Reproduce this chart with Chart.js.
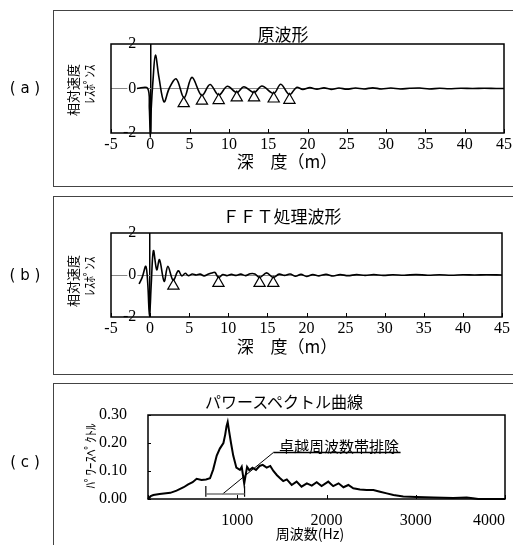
<!DOCTYPE html>
<html>
<head>
<meta charset="utf-8">
<script src="https://cdn.jsdelivr.net/npm/chart.js@4.4.1/dist/chart.umd.min.js"></script>
<style>
body { margin: 0; background: #fff; width: 513px; height: 545px; overflow: hidden; position: relative; font-family: 'Noto Sans CJK JP', sans-serif; color: #000; }
canvas { position: absolute; left: 0; }
.frame { position: absolute; border: 1px solid #444; left: 53px; width: 480px; }
.t { position: absolute; transform: translate(-50%, -50%); white-space: nowrap; line-height: 1; }
.v { transform: translate(-50%, -50%) rotate(-90deg); }
.tag { font-family: 'DejaVu Sans', sans-serif; font-size: 15px; }
</style>
</head>
<body>
<div class="frame" style="top:10px;height:175px"></div>
<div class="frame" style="top:196px;height:177px"></div>
<div class="frame" style="top:383px;height:200px"></div>

<canvas id="waveA" width="513" height="190" style="top:0"></canvas>
<canvas id="waveB" width="513" height="180" style="top:190px"></canvas>
<canvas id="spec" width="513" height="175" style="top:370px"></canvas>

<div class="t tag" style="left:25px;top:88px">( a )</div>
<div class="t tag" style="left:25px;top:275px">( b )</div>
<div class="t tag" style="left:25px;top:462px">( c )</div>

<div class="t" style="left:283px;top:33px;font-size:17px">原波形</div>
<div class="t" style="left:282px;top:215px;font-size:17px">ＦＦＴ処理波形</div>
<div class="t" style="left:284px;top:401px;font-size:16px">パワースペクトル曲線</div>

<div class="t" style="left:287px;top:160px;font-size:17px">深　度（m）</div>
<div class="t" style="left:287px;top:345px;font-size:17px">深　度（m）</div>
<div class="t" style="left:310px;top:533px;font-size:14px">周波数(Hz)</div>

<div class="t v" style="left:72px;top:90px;font-size:13px">相対速度</div>
<div class="t v" style="left:88px;top:84px;font-size:13px">ﾚｽﾎﾟﾝｽ</div>
<div class="t v" style="left:72px;top:281px;font-size:13px">相対速度</div>
<div class="t v" style="left:88px;top:276px;font-size:13px">ﾚｽﾎﾟﾝｽ</div>
<div class="t v" style="left:89px;top:456px;font-size:13px">ﾊﾟﾜｰｽﾍﾟｸﾄﾙ</div>

<div class="t" style="left:339px;top:445px;font-size:15px">卓越周波数帯排除</div>

<script>
// tick values
const depthTicks = [-5, 0, 5, 10, 15, 20, 25, 30, 35, 40, 45];
const ampTicks = [-2, 0, 2];
const freqTicks = [0, 1000, 2000, 3000, 4000];
const powerTicks = [0, 0.1, 0.2, 0.3];

// (a) original waveform
const depthA = [-1.7, -0.35, -0.12, 0, 0.12, 0.35, 0.65, 1.1, 1.75, 2.4, 3.3, 4.3, 5.3, 6.55, 7.6, 8.7, 9.8, 11.0, 11.9, 13.2, 14.2, 15.7, 16.6, 17.7, 18.6, 19.4, 20.3, 21.2, 22.1, 23.0, 24.0, 25.0, 26.1, 27.2, 28.3, 29.4, 30.6, 31.8, 33.0, 34.3, 35.5, 36.8, 38.0, 39.5, 41.0, 42.5, 44.0, 45];
const ampA = [0, 0.02, -0.9, -2.2, -0.9, 0.4, 1.5, 0.5, -0.6, 0.0, 0.43, -0.42, 0.5, -0.32, 0.18, -0.3, 0.1, -0.18, 0.08, -0.18, 0.11, -0.22, 0.19, -0.28, 0.05, -0.04, 0.04, -0.03, 0.03, -0.04, 0.02, -0.03, 0.02, -0.02, 0.03, -0.02, 0.02, -0.02, 0.01, 0.02, -0.02, 0.01, -0.01, 0.01, 0, 0.01, 0, 0];
const markDepthA = [4.25, 6.57, 8.7, 11.0, 13.2, 15.7, 17.7];
const markAmpA = [-0.67, -0.56, -0.53, -0.41, -0.41, -0.46, -0.52];

// (b) FFT processed waveform
const depthB = [-1.4, -1.0, -0.55, -0.3, -0.08, 0.15, 0.43, 0.85, 1.2, 1.8, 2.27, 2.95, 3.6, 4.05, 4.5, 4.9, 5.4, 5.9, 6.4, 6.9, 7.4, 7.9, 8.3, 8.75, 9.3, 9.8, 10.4, 11.0, 11.6, 12.2, 12.8, 13.4, 14.0, 14.9, 15.75, 16.5, 17.2, 17.9, 18.6, 19.3, 20.0, 20.8, 21.6, 22.5, 23.4, 24.3, 25.3, 26.4, 27.5, 28.6, 29.8, 31, 32.5, 34, 35.5, 37, 38.5, 40, 41.5, 43, 45];
const ampB = [-0.43, -0.1, 0.41, -0.4, -1.97, -0.4, 1.16, 0.25, 0.73, -0.3, 0.41, -0.25, 0.2, -0.04, 0.08, -0.03, 0.05, 0.0, 0.04, -0.04, 0.03, 0.1, 0.12, -0.12, 0.02, -0.03, 0.03, -0.02, 0.04, -0.03, 0.06, 0.05, -0.12, 0.1, -0.12, 0.04, -0.02, 0.05, -0.06, 0.03, -0.07, 0.02, -0.04, 0.03, -0.05, 0.02, -0.03, 0.02, -0.02, 0.02, -0.02, 0.01, -0.01, 0.02, -0.01, 0.01, -0.01, 0.01, 0, 0.01, 0];
const markDepthB = [2.98, 8.74, 14.0, 15.75];
const markAmpB = [-0.52, -0.39, -0.39, -0.39];

// (c) power spectrum
const freqC = [0, 30, 60, 130, 250, 320, 400, 450, 500, 545, 600, 650, 695, 730, 770, 805, 845, 865, 880, 893, 910, 930, 955, 990, 1030, 1050, 1078, 1110, 1135, 1170, 1210, 1250, 1285, 1330, 1370, 1405, 1445, 1480, 1515, 1555, 1610, 1665, 1720, 1780, 1835, 1890, 1945, 2020, 2075, 2135, 2190, 2245, 2300, 2375, 2450, 2525, 2600, 2675, 2750, 2860, 3010, 3200, 3420, 3570, 3640, 3700, 4000];
const powerC = [0, 0.01, 0.014, 0.018, 0.022, 0.03, 0.042, 0.052, 0.06, 0.072, 0.068, 0.07, 0.074, 0.105, 0.155, 0.18, 0.2, 0.23, 0.26, 0.275, 0.24, 0.2, 0.155, 0.112, 0.104, 0.115, 0.055, 0.115, 0.103, 0.112, 0.104, 0.118, 0.122, 0.112, 0.118, 0.1, 0.085, 0.074, 0.064, 0.07, 0.05, 0.062, 0.044, 0.056, 0.048, 0.06, 0.046, 0.062, 0.046, 0.056, 0.042, 0.05, 0.038, 0.034, 0.032, 0.032, 0.026, 0.02, 0.014, 0.009, 0.007, 0.005, 0.004, 0.005, 0.003, 0, 0];

// excluded band annotation
const bandHz = [648, 1082];
const bandLevel = 0.018;
const capRange = [0.008, 0.046];
const leaderHz = [837, 1405];
const leaderLevel = [0.018, 0.166];
const underlineHz = [1405, 2830];

const pts = (xs, ys) => xs.map((x, i) => ({ x: x, y: ys[i] }));
const serif = { family: 'Liberation Serif', size: 16 };
const none = 'rgba(0,0,0,0)';

// plot frame plus small inward tick marks
const frameTicks = {
  id: 'frameTicks',
  afterDraw(chart, args, opts) {
    const { ctx, chartArea: a, scales: { x, y } } = chart;
    ctx.save();
    ctx.strokeStyle = '#000';
    ctx.lineWidth = 1;
    x.ticks.forEach(t => {
      const px = Math.round(x.getPixelForValue(t.value)) + 0.5;
      ctx.beginPath(); ctx.moveTo(px, a.bottom); ctx.lineTo(px, a.bottom - 4); ctx.stroke();
    });
    if (opts.yMarks) {
      y.ticks.forEach(t => {
        const py = Math.round(y.getPixelForValue(t.value)) + 0.5;
        ctx.beginPath(); ctx.moveTo(a.left, py); ctx.lineTo(a.left + 3, py); ctx.stroke();
      });
    }
    ctx.lineWidth = 1.5;
    ctx.strokeRect(a.left, a.top, a.right - a.left, a.bottom - a.top);
    ctx.restore();
  }
};

function waveChart(id, depth, amp, markDepth, markAmp, pad) {
  new Chart(document.getElementById(id), {
    type: 'line',
    data: {
      datasets: [
        { data: pts(markDepth, markAmp), showLine: false, pointStyle: 'triangle', pointRadius: 6.5,
          pointBackgroundColor: '#fff', pointBorderColor: '#000', pointBorderWidth: 1.2, order: 0, clip: false },
        { data: pts(depth, amp), borderColor: '#000', borderWidth: 1.6, pointRadius: 0, tension: 0.35, clip: false, order: 1 }
      ]
    },
    options: {
      responsive: false, animation: false, events: [],
      layout: { padding: pad },
      plugins: { legend: { display: false }, tooltip: { enabled: false }, frameTicks: {} },
      scales: {
        x: {
          type: 'linear', min: -5, max: 45,
          afterBuildTicks: s => { s.ticks = depthTicks.map(v => ({ value: v })); },
          afterFit: s => { s.height = 30; s.paddingLeft = 0; s.paddingRight = 0; },
          grid: { drawTicks: false, color: c => (c.tick && c.tick.value === 0) ? '#000' : none, lineWidth: 1.5 },
          border: { display: false },
          ticks: { padding: 2, color: '#000', font: serif, maxRotation: 0, autoSkip: false, callback: v => String(v) }
        },
        y: {
          min: -2, max: 2,
          afterBuildTicks: s => { s.ticks = ampTicks.map(v => ({ value: v })); },
          afterFit: s => { s.width = 10; },
          grid: { drawTicks: false, color: c => (c.tick && c.tick.value === 0) ? '#888' : none, lineWidth: 1 },
          border: { display: false },
          ticks: { mirror: true, crossAlign: 'far', padding: 12, color: '#000', font: serif,
                   showLabelBackdrop: true, backdropColor: '#fff', backdropPadding: 1, callback: v => String(v) }
        }
      }
    },
    plugins: [frameTicks]
  });
}

waveChart('waveA', depthA, ampA, markDepthA, markAmpA, { left: 101, top: 44, right: 9, bottom: 27 });
waveChart('waveB', depthB, ampB, markDepthB, markAmpB, { left: 101, top: 43, right: 11, bottom: 23 });

const thin = { pointRadius: 0, tension: 0, clip: false };
new Chart(document.getElementById('spec'), {
  type: 'line',
  data: {
    datasets: [
      Object.assign({ data: pts(freqC, powerC), borderColor: '#000', borderWidth: 2 }, thin),
      Object.assign({ data: pts(bandHz, [bandLevel, bandLevel]), borderColor: '#777', borderWidth: 1.5 }, thin),
      Object.assign({ data: pts([bandHz[0], bandHz[0]], capRange), borderColor: '#000', borderWidth: 1.2 }, thin),
      Object.assign({ data: pts([bandHz[1], bandHz[1]], capRange), borderColor: '#000', borderWidth: 1.2 }, thin),
      Object.assign({ data: pts(leaderHz, leaderLevel), borderColor: '#000', borderWidth: 1 }, thin),
      Object.assign({ data: pts(underlineHz, [leaderLevel[1], leaderLevel[1]]), borderColor: '#000', borderWidth: 1.5 }, thin)
    ]
  },
  options: {
    responsive: false, animation: false, events: [],
    layout: { padding: { left: 98, top: 45, right: 8, bottom: 16 } },
    plugins: { legend: { display: false }, tooltip: { enabled: false }, frameTicks: { yMarks: true } },
    scales: {
      x: {
        type: 'linear', min: 0, max: 4000,
        afterBuildTicks: s => { s.ticks = freqTicks.map(v => ({ value: v })); },
        afterFit: s => { s.height = 30; s.paddingLeft = 0; s.paddingRight = 0; },
        grid: { display: false },
        border: { display: false },
        ticks: { align: 'inner', padding: 4, color: '#000', font: serif, maxRotation: 0, autoSkip: false, callback: v => v === 0 ? '' : String(v) }
      },
      y: {
        min: 0, max: 0.3,
        afterBuildTicks: s => { s.ticks = powerTicks.map(v => ({ value: v })); },
        afterFit: s => { s.width = 50; },
        grid: { display: false },
        border: { display: false },
        ticks: { padding: 13, color: '#000', font: serif, callback: v => v.toFixed(2) }
      }
    }
  },
  plugins: [frameTicks]
});
</script>
</body>
</html>
